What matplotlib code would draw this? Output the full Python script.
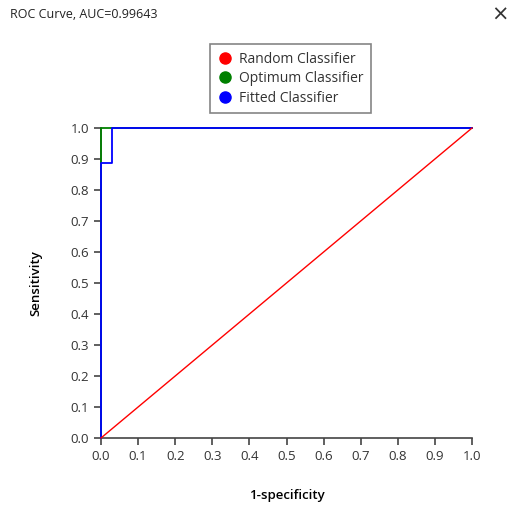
import matplotlib
matplotlib.use("Agg")
import matplotlib.pyplot as plt
from matplotlib.lines import Line2D

plt.rcParams['font.family'] = ['Open Sans', 'DejaVu Sans']

# data
random_fpr = [0.0, 1.0]
random_tpr = [0.0, 1.0]
optimum_fpr = [0.0, 0.0, 1.0]
optimum_tpr = [0.0, 1.0, 1.0]
fitted_fpr = [0.0, 0.0, 0.03, 0.03, 1.0]
fitted_tpr = [0.0, 0.888, 0.888, 1.0, 1.0]
ticks = [i / 10 for i in range(11)]
auc = 0.99643

fig = plt.figure(figsize=(5.14, 5.08), dpi=100)
ax = fig.add_axes([0.1965, 0.1378, 0.7218, 0.6102])

ax.plot(optimum_fpr, optimum_tpr, color='green', lw=1.3, clip_on=False, zorder=3)
ax.plot(fitted_fpr, fitted_tpr, color='blue', lw=1.3, clip_on=False, zorder=4)
ax.plot(random_fpr, random_tpr, color='red', lw=1, clip_on=False, zorder=5)

ax.set_xlim(0, 1)
ax.set_ylim(0, 1)
ax.set_xticks(ticks)
ax.set_yticks(ticks)
ax.set_xticklabels([f"{t:.1f}" for t in ticks])
ax.set_yticklabels([f"{t:.1f}" for t in ticks])
ax.tick_params(colors='#444444', labelcolor='#333333', labelsize=9.5, length=5, width=1.2)
for s in ['top', 'right']:
    ax.spines[s].set_visible(False)
for s in ['left', 'bottom']:
    ax.spines[s].set_color('#444444')
    ax.spines[s].set_linewidth(1.2)
    ax.spines[s].set_zorder(2)

ax.set_xlabel('1-specificity', fontsize=9.5, weight='semibold', labelpad=19)
ax.set_ylabel('Sensitivity', fontsize=9.5, weight='semibold', labelpad=20)

handles = [Line2D([], [], marker='o', ls='', color=c, markersize=8)
           for c in ['red', 'green', 'blue']]
leg = fig.legend(handles, ['Random Classifier', 'Optimum Classifier', 'Fitted Classifier'],
                 loc='upper left', bbox_to_anchor=(210 / 514, 1 - 44 / 508),
                 fontsize=10, frameon=True, fancybox=False, handletextpad=0.45,
                 borderpad=0.55, labelspacing=0.33, handlelength=1.1,
                 borderaxespad=0)
leg.get_frame().set_edgecolor('#666666')
leg.get_frame().set_linewidth(1.2)
for t in leg.get_texts():
    t.set_color('#333333')

fig.text(10 / 514, 1 - 15 / 508, f'ROC Curve, AUC={auc}', fontsize=9,
         va='center', ha='left', color='#222222')
fig.text(500 / 514, 1 - 15 / 508, '×', fontsize=15, va='center', ha='center',
         color='#333333', family='DejaVu Sans')

fig.savefig('out.png', dpi=100)
